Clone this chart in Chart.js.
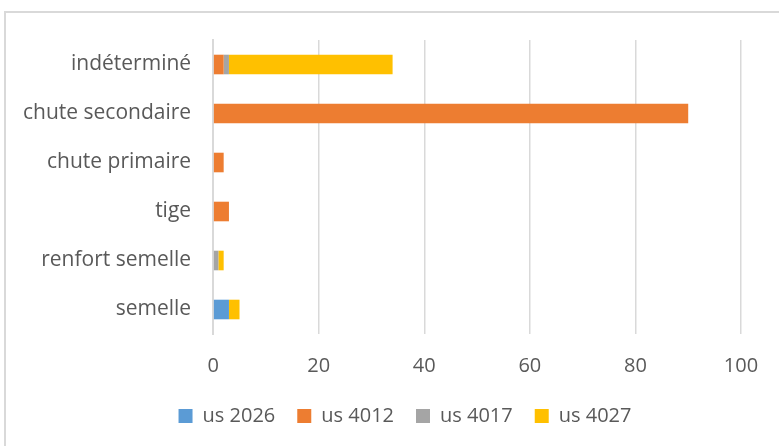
<!DOCTYPE html>
<html>
<head>
<meta charset="utf-8">
<script src="https://cdn.jsdelivr.net/npm/chart.js@4"></script>
<style>
  html, body { margin: 0; padding: 0; background: #fff; }
  #wrap { position: relative; width: 779px; height: 446px; overflow: hidden; }
  #frame { position: absolute; left: 4px; top: 11px; width: 800px; height: 500px;
           border: 2px solid #d9d9d9; box-sizing: border-box; }
  canvas { position: absolute; left: 0; top: 0; }
</style>
</head>
<body>
<div id="wrap">
  <div id="frame"></div>
  <canvas id="c" width="779" height="446"></canvas>
</div>
<script>
// Éléments de chaussure par unité stratigraphique (nombre de pièces)
const categories = ['indéterminé', 'chute secondaire', 'chute primaire', 'tige', 'renfort semelle', 'semelle'];
const us2026 = [0, 0, 0, 0, 0, 3];
const us4012 = [2, 90, 2, 3, 0, 0];
const us4017 = [1, 0, 0, 0, 1, 0];
const us4027 = [31, 0, 0, 0, 1, 2];
const xTicks = [0, 20, 40, 60, 80, 100];

const textColor = '#595959';
const fontFamily = '"Open Sans", sans-serif';
const fontSize = 20;

function ds(label, data, color) {
  return { label, data, backgroundColor: color, borderWidth: 0,
           barPercentage: 0.8, categoryPercentage: 0.5 };
}

// Shift the legend row a little to the right of the default centring
const legendShift = {
  id: 'legendShift',
  afterLayout(chart) {
    if (chart.legend) { chart.legend.left += 34; chart.legend.right += 34; }
  }
};

new Chart(document.getElementById('c'), {
  type: 'bar',
  data: {
    labels: categories,
    datasets: [
      ds('us 2026', us2026, '#5b9bd5'),
      ds('us 4012', us4012, '#ed7d31'),
      ds('us 4017', us4017, '#a5a5a5'),
      ds('us 4027', us4027, '#ffc000')
    ]
  },
  plugins: [legendShift],
  options: {
    indexAxis: 'y',
    responsive: false,
    animation: false,
    layout: { padding: { left: 1, right: 38, top: 40, bottom: 10 } },
    scales: {
      x: {
        stacked: true,
        min: 0, max: 100,
        afterBuildTicks: axis => { axis.ticks = xTicks.map(v => ({ value: v })); },
        afterFit: axis => { axis.height = 50; },
        grid: { color: '#d9d9d9', lineWidth: 1.5, drawTicks: false },
        border: { display: false },
        ticks: { color: textColor, font: { family: fontFamily, size: fontSize }, padding: 20 }
      },
      y: {
        stacked: true,
        grid: { display: false, drawTicks: false },
        border: { display: true, color: '#d9d9d9', width: 2 },
        ticks: { color: textColor, font: { family: fontFamily, size: 21 }, padding: 22 }
      }
    },
    plugins: {
      legend: {
        position: 'bottom',
        labels: { color: textColor, font: { family: fontFamily, size: fontSize },
                  boxWidth: 14, boxHeight: 14, padding: 22 }
      },
      tooltip: { enabled: false }
    }
  }
});
</script>
</body>
</html>
